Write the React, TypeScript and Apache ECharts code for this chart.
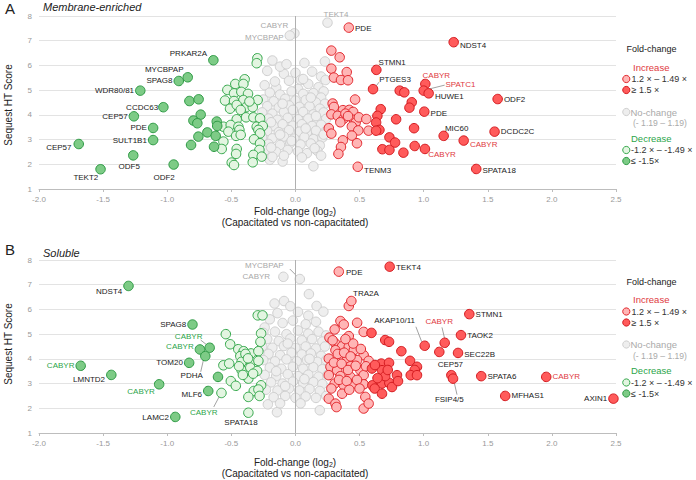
import React, { useEffect, useRef } from "react";
import * as echarts from "echarts";

type P = [number, number];
type L = [string, number, number, string];

// ---------------- Panel A: Membrane-enriched ----------------
const A_grey: P[] = [
  [-0.18, 6.2], [0.07, 6.1], [0.23, 6.16], [-0.22, 5.78], [-0.09, 5.66], [0.14, 1.92], [-0.1, 2.11], [-0.2, 2.18],
  [0.0, 5.7], [-0.12, 5.95], [0.13, 5.75], [0.2, 5.55], [0.04, 5.41], [0.235, 5.41],
  [-0.24, 5.2], [-0.15, 5.1], [-0.05, 5.38], [0.02, 5.05], [0.1, 5.25], [0.18, 5.12], [0.22, 4.95],
  [-0.2, 4.9], [-0.12, 4.82], [-0.03, 4.95], [0.06, 4.85], [0.14, 4.88], [0.2, 4.7],
  [-0.25, 4.62], [-0.17, 4.55], [-0.08, 4.65], [0.0, 4.58], [0.08, 4.6], [0.16, 4.5], [0.23, 4.45],
  [-0.22, 4.35], [-0.13, 4.3], [-0.05, 4.38], [0.03, 4.32], [0.11, 4.35], [0.19, 4.25],
  [-0.26, 4.1], [-0.18, 4.05], [-0.09, 4.12], [-0.01, 4.05], [0.06, 4.12], [0.14, 4.02], [0.22, 4.1],
  [-0.21, 3.85], [-0.14, 3.8], [-0.06, 3.88], [0.02, 3.82], [0.1, 3.85], [0.17, 3.78], [0.24, 3.84],
  [-0.25, 3.6], [-0.17, 3.55], [-0.1, 3.62], [-0.02, 3.56], [0.05, 3.62], [0.13, 3.55], [0.2, 3.6],
  [-0.22, 3.35], [-0.13, 3.3], [-0.05, 3.38], [0.03, 3.32], [0.09, 3.28], [0.16, 3.36], [0.23, 3.3],
  [-0.26, 3.1], [-0.18, 3.05], [-0.09, 3.12], [-0.01, 3.04], [0.07, 3.1], [0.14, 3.02], [0.21, 3.08],
  [-0.21, 2.82], [-0.12, 2.78], [-0.04, 2.86], [0.04, 2.8], [0.12, 2.84], [0.19, 2.76],
  [-0.24, 2.55], [-0.15, 2.5], [-0.06, 2.58], [0.02, 2.52], [0.09, 2.45], [0.17, 2.55],
  [-0.18, 2.3], [-0.09, 2.35], [0.05, 2.28], [0.2, 2.35],
  [-0.1, 4.45], [0.12, 4.7], [-0.16, 5.35], [0.06, 5.45], [-0.02, 4.2], [0.16, 3.95], [-0.19, 3.7],
  [0.08, 3.45], [-0.12, 3.2], [0.22, 3.2], [-0.03, 2.95], [0.15, 2.65], [-0.19, 2.68], [-0.07, 6.05],
];
const A_lightGreen: P[] = [
  [-0.297, 6.29], [-0.302, 6.09], [-0.396, 5.44], [-0.469, 5.25], [-0.406, 5.25], [-0.531, 5.01],
  [-0.479, 4.87], [-0.422, 4.93], [-0.37, 4.85], [-0.295, 4.6], [-0.549, 4.58], [-0.479, 4.56],
  [-0.406, 4.6], [-0.51, 4.25], [-0.458, 4.4], [-0.385, 4.31], [-0.333, 4.31], [-0.359, 4.54],
  [-0.427, 4.2], [-0.385, 3.9], [-0.328, 3.9], [-0.276, 3.86], [-0.458, 3.82], [-0.302, 3.52],
  [-0.255, 3.55], [-0.562, 3.52], [-0.505, 3.59], [-0.445, 3.52], [-0.437, 3.39], [-0.523, 3.32],
  [-0.463, 3.15], [-0.427, 3.19], [-0.289, 3.39], [-0.276, 3.25], [-0.323, 3.01], [-0.562, 2.92],
  [-0.575, 2.62], [-0.458, 2.62], [-0.463, 2.42], [-0.276, 2.85], [-0.281, 2.58], [-0.328, 2.38],
  [-0.497, 2.07], [-0.479, 1.97], [-0.333, 2.08], [-0.263, 2.31],
];
const A_darkGreen: P[] = [
  [-0.827, 4.56], [-0.755, 4.63], [-0.739, 4.01], [-0.796, 3.77], [-0.765, 3.66], [-0.687, 3.29],
  [-0.757, 3.12], [-0.814, 2.78], [-0.622, 3.15], [-0.635, 2.71], [-0.614, 3.73], [-0.61, 3.55],
];
const A_lightRed: P[] = [
  [0.28, 6.6], [0.345, 6.33], [0.28, 5.87], [0.4, 5.73], [0.3, 5.51], [0.355, 5.41], [0.41, 5.4],
  [0.465, 4.62], [0.29, 4.46], [0.3, 4.32], [0.37, 4.19], [0.42, 4.2], [0.45, 4.12], [0.28, 4.02],
  [0.33, 3.96], [0.375, 3.84], [0.455, 3.8], [0.47, 3.69], [0.495, 3.9], [0.553, 3.83], [0.26, 3.46],
  [0.28, 3.24], [0.44, 3.53], [0.49, 3.37], [0.57, 3.36], [0.44, 3.16], [0.37, 2.97], [0.355, 2.7],
  [0.335, 2.42], [0.48, 2.85], [0.39, 4.05], [0.41, 3.95], [0.35, 3.7],
];
const A_darkRed: P[] = [
  [0.813, 4.98], [0.849, 4.91], [0.907, 4.51], [0.889, 4.29], [0.665, 4.23], [0.639, 3.96],
  [0.629, 3.69], [0.785, 3.82], [0.655, 3.39], [0.629, 3.36], [0.925, 3.46], [0.733, 3.09],
  [0.777, 2.88], [0.93, 2.74], [0.678, 2.61], [0.733, 2.58], [0.842, 2.47],
];
const A_labeled: L[] = [
  ["CEP57", -1.69, 2.82, "dg"], ["TEKT2", -1.52, 1.8, "dg"], ["CEP57", -1.26, 3.94, "dg"],
  ["ODF5", -1.265, 2.36, "dg"], ["WDR80/81", -1.21, 4.98, "dg"], ["PDE", -1.11, 3.47, "dg"],
  ["SULT1B1", -1.11, 2.98, "dg"], ["CCDC63", -1.03, 4.31, "dg"], ["ODF2", -0.95, 1.99, "dg"],
  ["SPAG8", -0.91, 5.37, "dg"], ["MYCBPAP", -0.84, 5.52, "dg"], ["PRKAR2A", -0.64, 6.21, "dg"],
  ["CABYR", -0.008, 7.3, "grey"], ["MYCBPAP", -0.044, 7.21, "grey"], ["TEKT4", 0.25, 7.73, "grey"],
  ["PDE", 0.416, 7.53, "lr"], ["NDST4", 1.234, 6.94, "dr"], ["STMN1", 0.631, 5.82, "dr"],
  ["PTGES3", 0.605, 5.04, "dr"], ["CABYR", 1.013, 5.25, "dr"], ["SPATC1", 1.0, 4.98, "dr"],
  ["HUWE1", 1.039, 4.87, "dr"], ["ODF2", 1.577, 4.64, "dr"], ["PDE", 1.005, 4.13, "dr"],
  ["MIC60", 1.156, 3.15, "dr"], ["DCDC2C", 1.553, 3.32, "dr"], ["CABYR", 1.312, 2.96, "dr"],
  ["CABYR", 1.01, 2.62, "dr"], ["SPATA18", 1.41, 1.81, "dr"], ["TENM3", 0.486, 1.9, "lr"],
];

// ---------------- Panel B: Soluble ----------------
const B_grey: P[] = [
  [0.105, 6.62], [-0.163, 6.24], [-0.089, 6.34], [-0.04, 6.13], [0.165, 6.14], [0.218, 5.91], [-0.24, 5.27],
  [-0.215, 2.16], [-0.144, 1.84], [0.19, 1.92], [-0.14, 5.85], [0.02, 5.9], [0.1, 5.75],
  [-0.2, 5.6], [-0.1, 5.45], [-0.02, 5.55], [0.08, 5.4], [0.16, 5.5],
  [-0.25, 5.05], [-0.16, 5.1], [-0.07, 5.0], [0.02, 5.15], [0.1, 5.02], [0.18, 5.1], [0.24, 4.95],
  [-0.22, 4.8], [-0.13, 4.72], [-0.04, 4.82], [0.05, 4.75], [0.13, 4.8], [0.21, 4.7],
  [-0.26, 4.5], [-0.18, 4.45], [-0.09, 4.52], [0.0, 4.44], [0.08, 4.5], [0.16, 4.42], [0.23, 4.5],
  [-0.21, 4.2], [-0.12, 4.15], [-0.03, 4.25], [0.05, 4.18], [0.12, 4.22], [0.2, 4.12],
  [-0.25, 3.95], [-0.16, 3.9], [-0.07, 3.98], [0.01, 3.9], [0.09, 3.95], [0.17, 3.88], [0.24, 3.95],
  [-0.2, 3.65], [-0.11, 3.6], [-0.02, 3.68], [0.06, 3.6], [0.14, 3.66], [0.21, 3.58],
  [-0.24, 3.35], [-0.15, 3.3], [-0.06, 3.38], [0.02, 3.3], [0.1, 3.36], [0.18, 3.28], [0.25, 3.35],
  [-0.19, 3.05], [-0.1, 3.0], [-0.02, 3.08], [0.06, 3.02], [0.14, 3.06], [0.21, 2.98],
  [-0.23, 2.75], [-0.14, 2.72], [-0.05, 2.8], [0.03, 2.72], [0.11, 2.78], [0.19, 2.7],
  [-0.17, 2.45], [-0.08, 2.5], [0.0, 2.42], [0.08, 2.48], [0.16, 2.42], [0.24, 2.5],
  [-0.12, 2.2], [0.04, 2.2], [-0.06, 4.62], [0.11, 4.0], [-0.15, 3.5], [0.07, 3.18], [-0.08, 2.9],
];
const B_lightGreen: P[] = [
  [-0.294, 5.76], [-0.257, 5.76], [-0.543, 5.0], [-0.268, 5.03], [-0.509, 4.59], [-0.273, 4.69],
  [-0.446, 4.39], [-0.404, 4.31], [-0.346, 4.22], [-0.289, 4.31], [-0.43, 4.11], [-0.42, 3.88],
  [-0.346, 3.88], [-0.289, 3.92], [-0.562, 3.74], [-0.517, 3.81], [-0.42, 3.54], [-0.352, 3.65],
  [-0.299, 3.51], [-0.367, 3.2], [-0.504, 3.1], [-0.465, 2.91], [-0.325, 2.7], [-0.268, 2.93],
  [-0.289, 2.76], [-0.367, 2.46], [-0.39, 4.2], [-0.37, 4.02], [-0.44, 3.7], [-0.33, 3.4],
  [-0.41, 3.35], [-0.28, 2.5],
];
const B_darkGreen: P[] = [[-0.604, 3.27]];
const B_lightRed: P[] = [
  [0.416, 6.14], [0.351, 5.53], [0.377, 5.39], [0.481, 5.46], [0.306, 5.19], [0.532, 5.09],
  [0.265, 4.86], [0.416, 4.92], [0.312, 4.62], [0.364, 4.51], [0.416, 4.49], [0.455, 4.35],
  [0.532, 4.15], [0.312, 4.35], [0.26, 4.01], [0.351, 3.95], [0.403, 4.01], [0.481, 3.95],
  [0.571, 3.92], [0.273, 3.68], [0.325, 3.54], [0.429, 3.7], [0.506, 3.54], [0.26, 3.34],
  [0.351, 3.3], [0.429, 3.27], [0.532, 3.34], [0.306, 3.0], [0.377, 2.93], [0.455, 3.0],
  [0.532, 2.97], [0.26, 2.39], [0.364, 2.59], [0.545, 2.46], [0.312, 2.19], [0.32, 2.05],
  [0.532, 1.99], [0.571, 2.19], [0.29, 4.75], [0.33, 4.2], [0.38, 4.25], [0.43, 4.1],
  [0.3, 3.85], [0.36, 3.8], [0.41, 3.55], [0.47, 3.72], [0.34, 3.15], [0.4, 3.1], [0.48, 3.15],
  [0.28, 2.8], [0.42, 2.75], [0.5, 2.8], [0.45, 4.62], [0.39, 4.8], [0.55, 3.7], [0.51, 4.4],
];
const B_darkRed: P[] = [
  [1.122, 4.28], [0.593, 5.05], [0.7, 4.76], [0.73, 4.69], [0.826, 4.31], [0.67, 3.81], [0.73, 3.84],
  [0.894, 3.92], [0.948, 3.68], [0.93, 3.55], [0.899, 3.34], [0.948, 3.34], [0.792, 3.34],
  [0.597, 3.61], [0.675, 3.54], [0.62, 3.75], [0.675, 3.0], [0.732, 3.03], [0.6, 2.93], [0.618, 2.8],
  [0.675, 2.59], [0.753, 2.86], [0.7, 3.3], [0.64, 3.22], [0.72, 3.55], [0.8, 3.1],
];
const B_labeled: L[] = [
  ["NDST4", -1.302, 6.95, "dg"], ["SPAG8", -0.803, 5.39, "dg"], ["CABYR", -0.669, 4.45, "dg"],
  ["CABYR", -0.745, 4.38, "dg"], ["PDHA", -0.703, 4.11, "dg"], ["TOM20", -0.829, 3.84, "dg"],
  ["CABYR", -1.675, 3.72, "dg"], ["LMNTD2", -1.436, 3.35, "dg"], ["CABYR", -1.063, 2.97, "dg"],
  ["MLF6", -0.68, 2.7, "dg"], ["LAMC2", -0.937, 1.65, "dg"], ["CABYR", -0.577, 2.62, "lg"],
  ["SPATA18", -0.367, 1.82, "lg"], ["MYCBPAP", 0.034, 7.23, "grey"], ["CABYR", -0.094, 7.32, "grey"],
  ["PDE", 0.338, 7.53, "lr"], ["TEKT4", 0.735, 7.73, "dr"], ["TRA2A", 0.436, 6.34, "lr"],
  ["AKAP10/11", 1.008, 4.53, "dr"], ["CABYR", 1.164, 4.65, "dr"], ["STMN1", 1.356, 5.81, "dr"],
  ["TAOK2", 1.291, 4.96, "dr"], ["SEC22B", 1.268, 4.24, "dr"], ["CEP57", 1.216, 3.34, "dr"],
  ["FSIP4/5", 1.229, 3.2, "dr"], ["SPATA6", 1.449, 3.3, "dr"], ["CABYR", 1.956, 3.27, "dr"],
  ["MFHAS1", 1.636, 2.5, "dr"], ["AXIN1", 2.48, 2.39, "dr"],
];

const X_TICKS = { min: -2, max: 2.5, step: 0.5 };
const Y_TICKS = { min: 1, max: 8, step: 1 };
const PANEL_TITLES = ["Membrane-enriched", "Soluble"];
const PANEL_LETTERS = ["A", "B"];
const LEGEND_ITEMS = ["1.2 × – 1.49 ×", "≥ 1.5 ×", "No-change", "(- 1.19 – 1.19)", "-1.2 × – -1.49 ×", "≤ -1.5×"];

// ---------------- styling (kept apart from data) ----------------
const FONT = "'Liberation Sans', Arial, sans-serif";
const COLORS: Record<string, { fill: string; stroke: string }> = {
  grey: { fill: "#eeeeee", stroke: "#cfcfcf" },
  lg: { fill: "#e3f5e1", stroke: "#35a84c" },
  dg: { fill: "#7dcb86", stroke: "#2d9a44" },
  lr: { fill: "#ffb5b5", stroke: "#e2262c" },
  dr: { fill: "#ff5b5b", stroke: "#d41a1f" },
};
const LBL = { black: "#222222", grey: "#a8a8a8", red: "#e0393e", green: "#2ca54a" };

type Place = { pos: string; off: [number, number]; color?: string; line?: [number, number, number, number] };
const A_place: Place[] = [
  { pos: "left", off: [-1, 3] }, { pos: "left", off: [4, 8] }, { pos: "left", off: [0, 0] },
  { pos: "bottom", off: [-4, 1] }, { pos: "left", off: [0, 0] }, { pos: "left", off: [0, 0] },
  { pos: "left", off: [0, 0] }, { pos: "left", off: [1, 0] }, { pos: "bottom", off: [-9.5, 3] },
  { pos: "left", off: [0, 0] }, { pos: "left", off: [2, -8] }, { pos: "left", off: [0, -7] },
  { pos: "left", off: [0, -8], color: LBL.grey }, { pos: "left", off: [0, 2], color: LBL.grey },
  { pos: "top", off: [8.5, 2], color: LBL.grey },
  { pos: "right", off: [0, 1] }, { pos: "right", off: [0, 3] }, { pos: "right", off: [-4, -7] },
  { pos: "right", off: [0, -10], line: [3, -3, 6, -7] }, { pos: "top", off: [11, 2], color: LBL.red },
  { pos: "right", off: [15.6, -6], color: LBL.red, line: [5, -1.5, 21, -5.5] },
  { pos: "right", off: [0, 3] }, { pos: "right", off: [0, 0] }, { pos: "right", off: [0, 2] },
  { pos: "top", off: [13, 3] }, { pos: "right", off: [0, 0] }, { pos: "right", off: [0, 4], color: LBL.red },
  { pos: "right", off: [-3, 6], color: LBL.red }, { pos: "right", off: [0, 2] }, { pos: "right", off: [0, 4] },
];
const B_place: Place[] = [
  { pos: "left", off: [0, 6] }, { pos: "left", off: [0, 0] },
  { pos: "left", off: [-1, -11], color: LBL.green, line: [-2.3, -2.4, -9, -7.7] },
  { pos: "left", off: [0, -2.6], color: LBL.green },
  { pos: "bottom", off: [-13.6, 9], line: [-1.9, 4, -4.6, 15.7] },
  { pos: "left", off: [0, 0] }, { pos: "left", off: [0, 0], color: LBL.green },
  { pos: "left", off: [0, 5] }, { pos: "left", off: [2, 7], color: LBL.green },
  { pos: "left", off: [0, 3.5] }, { pos: "left", off: [0, 0.5] },
  { pos: "bottom", off: [-17.7, 9.5], color: LBL.green, line: [-2.4, 4, -7.7, 14] },
  { pos: "bottom", off: [-7.4, 0] },
  { pos: "left", off: [-10, -14], color: LBL.grey, line: [-3, -3, -10, -10] },
  { pos: "left", off: [-7, 0], color: LBL.grey },
  { pos: "right", off: [1, 1] }, { pos: "right", off: [0, 1] }, { pos: "top", off: [14.6, 3] },
  { pos: "left", off: [-3.4, -25.6], line: [-3, -4, -8.8, -19] },
  { pos: "top", off: [-5.5, -11], color: LBL.red, line: [0, -4, -2.7, -15.4] },
  { pos: "right", off: [0, 0] }, { pos: "right", off: [0, 0] }, { pos: "right", off: [0, 2] },
  { pos: "top", off: [-1, 0] }, { pos: "bottom", off: [-3.7, 11], line: [1, 3, 4, 16] },
  { pos: "right", off: [0, 0] }, { pos: "right", off: [0, 0], color: LBL.red },
  { pos: "right", off: [0, 0] }, { pos: "left", off: [0, 0] },
];

const GRIDS = [
  { left: 39, top: 16, width: 577, height: 173 },
  { left: 39, top: 260, width: 577, height: 173 },
];
const PANELS = [
  { grey: A_grey, lg: A_lightGreen, dg: A_darkGreen, lr: A_lightRed, dr: A_darkRed, labeled: A_labeled, place: A_place },
  { grey: B_grey, lg: B_lightGreen, dg: B_darkGreen, lr: B_lightRed, dr: B_darkRed, labeled: B_labeled, place: B_place },
];

function buildSeries() {
  const series: any[] = [];
  PANELS.forEach((pn: any, g) => {
    // leader lines (drawn through the axes' own coordinate transform)
    const leaderData: number[][] = [];
    (pn.place as Place[]).forEach((pl, i) => {
      if (!pl.line) return;
      const l = pn.labeled[i] as L;
      leaderData.push([l[1], l[2], ...pl.line]);
    });
    series.push({
      type: "custom",
      xAxisIndex: g,
      yAxisIndex: g,
      silent: true,
      z: 1,
      data: leaderData,
      renderItem: (_p: any, api: any) => {
        const c = api.coord([api.value(0), api.value(1)]);
        return {
          type: "line",
          shape: {
            x1: c[0] + api.value(2),
            y1: c[1] + api.value(3),
            x2: c[0] + api.value(4),
            y2: c[1] + api.value(5),
          },
          style: { stroke: "#8a8a8a", lineWidth: 0.8 },
        };
      },
    });
    ["grey", "lg", "dg", "lr", "dr"].forEach((cls) => {
      const data: any[] = (pn[cls] as P[]).map((p) => ({ value: p }));
      (pn.labeled as L[]).forEach((l, i) => {
        if (l[3] !== cls) return;
        const pl: Place = pn.place[i];
        data.push({
          value: [l[1], l[2]],
          name: l[0],
          label: {
            show: true,
            formatter: l[0],
            position: pl.pos,
            distance: 1,
            offset: pl.off,
            color: pl.color || LBL.black,
            fontSize: 8,
            fontFamily: FONT,
          },
        });
      });
      const s: any = {
        type: "scatter",
        xAxisIndex: g,
        yAxisIndex: g,
        symbol: "circle",
        symbolSize: 9.5,
        silent: true,
        itemStyle: { color: COLORS[cls].fill, borderColor: COLORS[cls].stroke, borderWidth: 1, opacity: 1 },
        data,
      };
      if (cls === "grey") {
        s.markLine = {
          silent: true,
          symbol: "none",
          label: { show: false },
          lineStyle: { color: "#b0b0b0", type: "solid", width: 1 },
          data: [{ xAxis: 0 }],
        };
      }
      series.push(s);
    });
  });
  return series;
}

function staticGraphics() {
  const g: any[] = [];
  const txt = (text: string, x: number, y: number, o: any = {}) => ({
    type: "text",
    x,
    y,
    silent: true,
    style: {
      text,
      fill: o.fill || "#222",
      font: `${o.italic ? "italic " : ""}${o.size || 9}px ${FONT}`,
      align: o.align || "left",
      verticalAlign: "middle",
      rich: o.rich,
    },
    rotation: o.rotation || 0,
  });
  const circ = (cx: number, cy: number, cls: string) => ({
    type: "circle",
    silent: true,
    shape: { cx, cy, r: 3.6 },
    style: { fill: COLORS[cls].fill, stroke: COLORS[cls].stroke, lineWidth: 1 },
  });
  [0, 1].forEach((p) => {
    const dy = p === 0 ? 0 : 251;
    const ldy = p === 0 ? 0 : 232.5;
    g.push(txt(PANEL_LETTERS[p], 5, 8 + (p === 0 ? 0 : 241), { size: 15 }));
    g.push(txt(PANEL_TITLES[p], 43, 7 + (p === 0 ? 0 : 245.5), { size: 11, italic: true }));
    g.push(txt("Sequest HT Score", 8, 105 + (p === 0 ? 0 : 239), { size: 10, align: "center", rotation: Math.PI / 2 }));
    g.push(
      txt("Fold-change (log{s|2})", 295, 211 + dy, {
        size: 10,
        align: "center",
        rich: { s: { fontSize: 7, fontFamily: FONT, fill: "#222", padding: [5, 0, 0, 0] } },
      })
    );
    g.push(txt("(Capacitated vs non-capacitated)", 295, 222.5 + dy, { size: 10, align: "center" }));
    // legend
    g.push(txt("Fold-change", 651.5, 49 + ldy, { size: 9, align: "center" }));
    g.push(txt("Increase", 633, 67 + ldy, { size: 9.5, fill: LBL.red }));
    g.push(circ(626.3, 79 + ldy, "lr"));
    g.push(txt(LEGEND_ITEMS[0], 631.5, 79 + ldy, { size: 9, fill: "#333" }));
    g.push(circ(626.3, 90 + ldy, "dr"));
    g.push(txt(LEGEND_ITEMS[1], 631.5, 90 + ldy, { size: 9, fill: "#333" }));
    g.push(circ(626.3, 112 + ldy, "grey"));
    g.push(txt(LEGEND_ITEMS[2], 630.5, 112 + ldy, { size: 9.5, fill: "#aaa" }));
    g.push(txt(LEGEND_ITEMS[3], 633, 123 + ldy, { size: 8.6, fill: "#aaa" }));
    g.push(txt("Decrease", 631, 138 + ldy, { size: 9.5, fill: LBL.green }));
    g.push(circ(626.3, 150 + ldy, "lg"));
    g.push(txt(LEGEND_ITEMS[4], 631, 150 + ldy, { size: 9, fill: "#333" }));
    g.push(circ(626.3, 161 + ldy, "dg"));
    g.push(txt(LEGEND_ITEMS[5], 631, 161 + ldy, { size: 9, fill: "#333" }));
  });
  return g;
}

export default function App() {
  const ref = useRef<HTMLDivElement>(null);
  useEffect(() => {
    if (!ref.current) return;
    const chart = echarts.init(ref.current, undefined, { renderer: "svg" });
    const xAxes = GRIDS.map((_, g) => ({
      type: "value",
      gridIndex: g,
      min: X_TICKS.min,
      max: X_TICKS.max,
      interval: X_TICKS.step,
      axisLine: { onZero: false, lineStyle: { color: "#bdbdbd" } },
      axisTick: { show: true, length: 3, lineStyle: { color: "#bdbdbd" } },
      axisLabel: { fontSize: 8, color: "#999", margin: 6, fontFamily: FONT, formatter: (v: number) => v.toFixed(1) },
      splitLine: { show: false },
    }));
    const yAxes = GRIDS.map((_, g) => ({
      type: "value",
      gridIndex: g,
      min: Y_TICKS.min,
      max: Y_TICKS.max,
      interval: Y_TICKS.step,
      axisLine: { show: false },
      axisTick: { show: false },
      axisLabel: { fontSize: 8, color: "#999", margin: 7, fontFamily: FONT },
      splitLine: { lineStyle: { color: "#e3e3e3" } },
    }));
    chart.setOption({
      animation: false,
      backgroundColor: "#ffffff",
      textStyle: { fontFamily: FONT },
      grid: GRIDS,
      xAxis: xAxes,
      yAxis: yAxes,
      graphic: staticGraphics(),
      series: buildSeries(),
    });
    return () => chart.dispose();
  }, []);
  return <div ref={ref} style={{ position: "absolute", left: 0, top: 0, width: 696, height: 480, background: "#fff" }} />;
}
